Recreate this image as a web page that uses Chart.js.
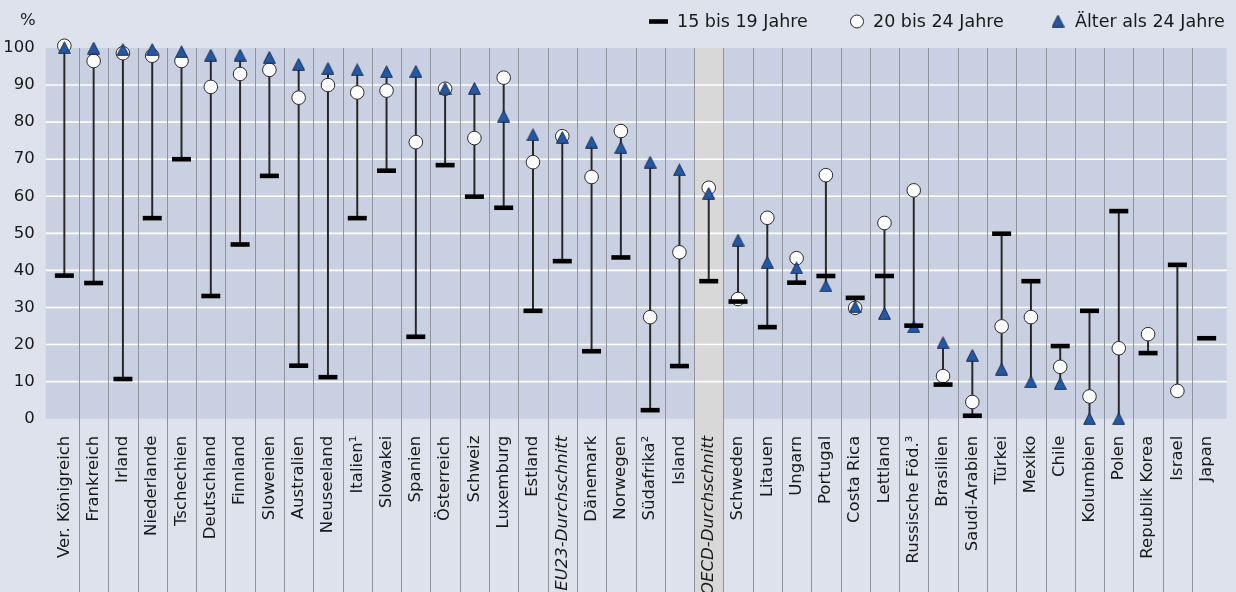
<!DOCTYPE html>
<html lang="de">
<head>
<meta charset="utf-8">
<title>Bildungsbeteiligung nach Altersgruppen</title>
<script src="https://cdn.jsdelivr.net/npm/chart.js@4.4.1/dist/chart.umd.min.js"></script>
<style>
  html, body { margin: 0; padding: 0; background: #dde2ed; }
  canvas { display: block; }
</style>
</head>
<body>
<canvas id="c" width="1236" height="592"></canvas>
<script>
// Länder und Durchschnitte in Reihenfolge der Darstellung
const categories = [
  'Ver. Königreich', 'Frankreich', 'Irland', 'Niederlande', 'Tschechien', 'Deutschland',
  'Finnland', 'Slowenien', 'Australien', 'Neuseeland', 'Italien¹', 'Slowakei', 'Spanien',
  'Österreich', 'Schweiz', 'Luxemburg', 'Estland', 'EU23-Durchschnitt', 'Dänemark',
  'Norwegen', 'Südafrika²', 'Island', 'OECD-Durchschnitt', 'Schweden', 'Litauen', 'Ungarn',
  'Portugal', 'Costa Rica', 'Lettland', 'Russische Föd.³', 'Brasilien', 'Saudi-Arabien',
  'Türkei', 'Mexiko', 'Chile', 'Kolumbien', 'Polen', 'Republik Korea', 'Israel', 'Japan'
];

// Anteile in % je Altersgruppe
const age15to19 = [
  38.6, 36.6, 10.7, 54.1, 70.0, 33.1, 47.0, 65.5, 14.3, 11.2, 54.1, 66.9, 22.1,
  68.4, 59.9, 56.9, 29.1, 42.5, 18.2, 43.5, 2.3, 14.2, 37.1, 31.6, 24.7, 36.7,
  38.5, 32.6, 38.5, 25.1, 9.2, 0.8, 49.9, 37.1, 19.6, 29.1, 56.0, 17.7, 41.5, 21.7
];
const age20to24 = [
  100.6, 96.5, 98.6, 97.9, 96.5, 89.5, 93.0, 94.1, 86.6, 90.0, 88.0, 88.5, 74.6,
  89.0, 75.7, 92.0, 69.2, 76.2, 65.2, 77.6, 27.4, 44.9, 62.3, 32.3, 54.2, 43.3,
  65.7, 29.9, 52.8, 61.6, 11.5, 4.5, 24.9, 27.4, 14.0, 6.0, 19.0, 22.8, 7.5, null
];
const over24 = [
  100.1, 100.0, 99.6, 99.6, 99.0, 98.1, 98.1, 97.5, 95.6, 94.5, 94.1, 93.6, 93.7,
  89.1, 89.1, 81.6, 76.6, 75.9, 74.6, 73.2, 69.2, 67.1, 60.8, 48.2, 42.2, 40.7,
  35.8, 30.2, 28.4, 24.8, 20.5, 17.1, 13.4, 10.0, 9.5, 0.0, 0.0, null, null, null
];

// Achsenbeschriftung der y-Achse
const yTickValues = [0, 10, 20, 30, 40, 50, 60, 70, 80, 90, 100];

const seriesLabels = ['15 bis 19 Jahre', '20 bis 24 Jahre', 'Älter als 24 Jahre'];
const highlighted = 'OECD-Durchschnitt';
const italicLabels = ['EU23-Durchschnitt', 'OECD-Durchschnitt'];

const FONT = '"DejaVu Sans", sans-serif';
const TRI_FILL = '#2159a8';
const TRI_EDGE = '#1b2c4c';

// Dreieck als eigenes Punktsymbol
function triangleSymbol(size) {
  const cv = document.createElement('canvas');
  cv.width = size; cv.height = size;
  const g = cv.getContext('2d');
  g.beginPath();
  g.moveTo(size / 2, 0.7);
  g.lineTo(size - 0.6, size - 0.7);
  g.lineTo(0.6, size - 0.7);
  g.closePath();
  g.fillStyle = TRI_FILL;
  g.fill();
  g.lineWidth = 1;
  g.strokeStyle = TRI_EDGE;
  g.stroke();
  return cv;
}
const triangle = triangleSymbol(13);

// Verbindungslinie je Land: vom kleinsten zum größten Wert
const spans = categories.map((_, i) => {
  const vals = [age15to19[i], age20to24[i], over24[i]].filter(v => v !== null);
  return [Math.min(...vals), Math.max(...vals)];
});

// Hintergründe, Raster, Spaltentrenner, Einheit und Legende
const backdrop = {
  id: 'backdrop',
  beforeDraw(chart) {
    const { ctx, scales: { x, y } } = chart;
    const n = categories.length;
    const step = x.getPixelForValue(1) - x.getPixelForValue(0);
    const top = y.getPixelForValue(100);
    const bottom = y.getPixelForValue(0);
    const left = x.getPixelForValue(0) - step / 2 - 4;
    const right = x.getPixelForValue(n - 1) + step / 2 + 5.5;

    ctx.save();
    ctx.fillStyle = '#dde2ed';
    ctx.fillRect(0, 0, chart.width, chart.height);

    ctx.fillStyle = '#c9d0e1';
    ctx.fillRect(left, top, right - left, bottom - top);

    const hi = categories.indexOf(highlighted);
    const hx = x.getPixelForValue(hi);
    ctx.fillStyle = '#d8d8d8';
    ctx.fillRect(hx - step / 2, top, step, chart.height - top);

    ctx.strokeStyle = '#ffffff';
    ctx.lineWidth = 1.6;
    yTickValues.forEach(v => {
      if (v <= 0 || v >= 100) return;
      const py = y.getPixelForValue(v);
      ctx.beginPath();
      ctx.moveTo(left, py);
      ctx.lineTo(right, py);
      ctx.stroke();
    });

    ctx.strokeStyle = '#8f939c';
    ctx.lineWidth = 1;
    for (let i = 1; i < n; i++) {
      const px = Math.round((x.getPixelForValue(i - 1) + x.getPixelForValue(i)) / 2) + 0.5;
      ctx.beginPath();
      ctx.moveTo(px, top);
      ctx.lineTo(px, chart.height);
      ctx.stroke();
    }

    ctx.fillStyle = '#1a1a1a';
    ctx.font = '16.5px ' + FONT;
    ctx.textAlign = 'left';
    ctx.textBaseline = 'middle';
    ctx.fillText('%', 20, 21);
    ctx.restore();
  },
  afterDraw(chart) {
    const { ctx } = chart;
    const ds = chart.data.datasets;
    const cy = 21.5;
    ctx.save();
    ctx.font = '17.5px ' + FONT;
    ctx.fillStyle = '#1a1a1a';
    ctx.textAlign = 'left';
    ctx.textBaseline = 'middle';

    // 15 bis 19 Jahre
    ctx.fillStyle = '#000';
    ctx.fillRect(649, cy - 2.3, 19, 4.6);
    ctx.fillStyle = '#1a1a1a';
    ctx.fillText(ds[0].label, 677, cy + 0.5);

    // 20 bis 24 Jahre
    ctx.beginPath();
    ctx.arc(857, cy, 6.5, 0, Math.PI * 2);
    ctx.fillStyle = '#ffffff';
    ctx.fill();
    ctx.lineWidth = 1;
    ctx.strokeStyle = '#2a2a2a';
    ctx.stroke();
    ctx.fillStyle = '#1a1a1a';
    ctx.fillText(ds[1].label, 873, cy + 0.5);

    // Älter als 24 Jahre
    ctx.drawImage(triangle, 1058 - 6.5, cy - 7);
    ctx.fillText(ds[2].label, 1075, cy + 0.5);
    ctx.restore();
  }
};

new Chart(document.getElementById('c'), {
  data: {
    labels: categories,
    datasets: [
      {
        type: 'line',
        label: seriesLabels[0],
        data: age15to19,
        showLine: false,
        pointStyle: 'line',
        pointRadius: 9.5,
        pointBorderWidth: 4.6,
        pointBorderColor: '#000000',
        pointBackgroundColor: '#000000',
        clip: false,
        order: 1
      },
      {
        type: 'line',
        label: seriesLabels[1],
        data: age20to24,
        showLine: false,
        pointStyle: 'circle',
        pointRadius: 6.8,
        pointBorderWidth: 1,
        pointBorderColor: '#2a2a2a',
        pointBackgroundColor: '#ffffff',
        clip: false,
        order: 3
      },
      {
        type: 'line',
        label: seriesLabels[2],
        data: over24,
        showLine: false,
        pointStyle: triangle,
        pointRadius: 6.5,
        clip: false,
        order: 2
      },
      {
        type: 'bar',
        label: 'Spanne',
        data: spans,
        backgroundColor: '#262626',
        barThickness: 1.3,
        borderWidth: 0,
        clip: false,
        order: 4
      }
    ]
  },
  options: {
    responsive: false,
    devicePixelRatio: 1,
    animation: false,
    events: [],
    layout: { padding: { top: 48, left: 0, right: 14.7, bottom: 0 } },
    plugins: {
      legend: { display: false },
      tooltip: { enabled: false }
    },
    scales: {
      x: {
        type: 'category',
        offset: true,
        grid: { display: false },
        border: { display: false },
        ticks: {
          autoSkip: false,
          minRotation: 90,
          maxRotation: 90,
          padding: 9,
          color: '#1a1a1a',
          font: (c) => ({
            family: FONT,
            size: 16.5,
            style: italicLabels.includes(categories[c.index]) ? 'italic' : 'normal'
          })
        },
        afterFit(scale) { scale.height = 173.3; }
      },
      y: {
        min: 0,
        max: 100,
        grid: { display: false },
        border: { display: false },
        afterBuildTicks(scale) { scale.ticks = yTickValues.map(v => ({ value: v })); },
        ticks: {
          padding: 7,
          color: '#1a1a1a',
          font: { family: FONT, size: 16.5 }
        },
        afterFit(scale) { scale.width = 49.7; }
      }
    }
  },
  plugins: [backdrop]
});
</script>
</body>
</html>
